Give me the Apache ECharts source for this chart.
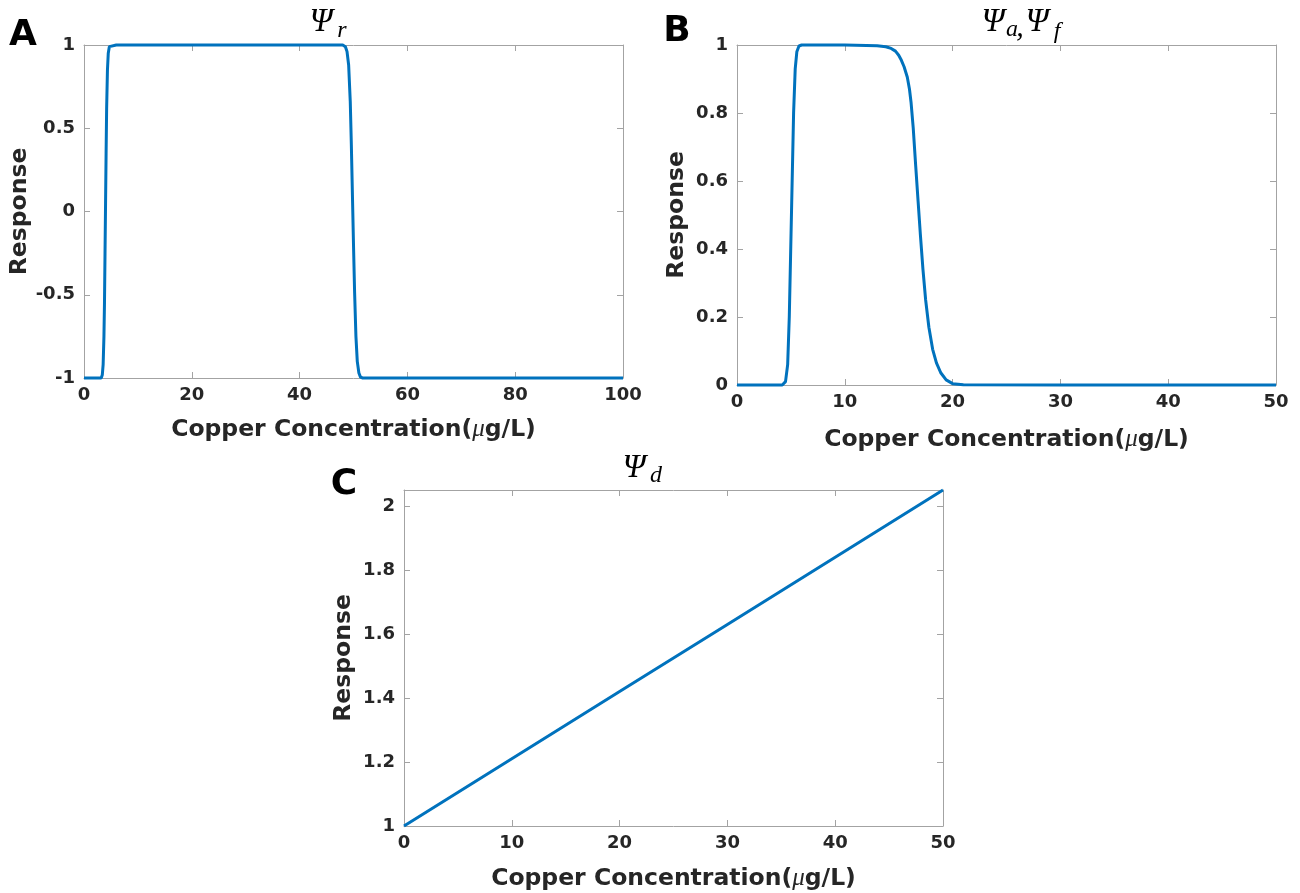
<!DOCTYPE html>
<html>
<head>
<meta charset="utf-8">
<title>Copper concentration responses</title>
<script src="https://cdn.jsdelivr.net/npm/echarts@6/dist/echarts.min.js"></script>
<style>
  html, body { margin: 0; padding: 0; background: #ffffff; }
  #chart { width: 1300px; height: 893px; }
</style>
</head>
<body>
<div id="chart"></div>
<script>
// Panel A: Psi_r response
const psiRX = [0, 3.2, 3.4, 3.55, 3.7, 3.8, 3.9, 4.0, 4.1, 4.2, 4.35, 4.5, 4.7, 5.0, 6.0, 20, 35,
  48.0, 48.5, 48.8, 49.1, 49.4, 49.6, 49.8, 50.0, 50.2, 50.45, 50.7, 51.0, 51.3, 51.7, 53, 70, 100];
const psiRY = [-1, -1, -0.98, -0.92, -0.75, -0.55, -0.25, 0.05, 0.35, 0.62, 0.85, 0.95, 0.99, 0.998, 1, 1, 1,
  1, 0.99, 0.96, 0.88, 0.66, 0.4, 0.1, -0.2, -0.48, -0.75, -0.9, -0.97, -0.995, -1, -1, -1, -1];

// Panel B: Psi_a, Psi_f response
const psiAFX = [0, 4.2, 4.5, 4.7, 4.85, 4.95, 5.05, 5.15, 5.25, 5.4, 5.55, 5.75, 6.0, 8, 10,
  13.0, 13.8, 14.3, 14.7, 15.0, 15.25, 15.5, 15.8, 16.0, 16.15, 16.35, 16.58, 16.8, 17.0, 17.25,
  17.5, 17.8, 18.15, 18.5, 18.9, 19.4, 20.0, 21.0, 30, 40, 50];
const psiAFY = [0, 0, 0.01, 0.06, 0.2, 0.35, 0.5, 0.65, 0.8, 0.93, 0.98, 0.997, 1, 1, 1,
  0.998, 0.995, 0.99, 0.982, 0.97, 0.955, 0.936, 0.905, 0.87, 0.83, 0.755, 0.643, 0.54, 0.447, 0.34,
  0.25, 0.17, 0.105, 0.065, 0.036, 0.015, 0.004, 0.001, 0, 0, 0];

// Panel C: Psi_d response
const psiDX = [0, 10, 20, 30, 40, 50];
const psiDY = [1, 1.21, 1.42, 1.63, 1.84, 2.05];

// Axis ranges [min, max, interval]
const xRanges = [[0, 100, 20], [0, 50, 10], [0, 50, 10]];
const yRanges = [[-1, 1, 0.5], [0, 1, 0.2], [1, 2.05, 0.2]];

const xName = 'Copper Concentration(';
const yName = 'Response';
const panelLetters = ['A', 'B', 'C'];

const LINE_COLOR = '#0072BD';
const FRAME = '#a3a3a3';
const TEXT = '#262626';
const SANS = '"DejaVu Sans", "Open Sans", sans-serif';
const SERIF = '"Liberation Serif", "DejaVu Serif", serif';

const grids = [
  { left: 84, top: 45, width: 539, height: 333 },
  { left: 737, top: 45, width: 539, height: 340 },
  { left: 404, top: 490, width: 539, height: 336 }
];
const xNameGaps = [39, 42, 40];
const yNameGaps = [49, 48, 48];

function pairs(xs, ys) {
  return xs.map((x, i) => [x, ys[i]]);
}
const seriesData = [pairs(psiRX, psiRY), pairs(psiAFX, psiAFY), pairs(psiDX, psiDY)];

const tickLabel = { fontFamily: SANS, fontWeight: 'bold', fontSize: 18, color: TEXT };

const xAxes = [], yAxes = [], series = [];
grids.forEach((g, i) => {
  const [xmin, xmax, xint] = xRanges[i];
  const [ymin, ymax, yint] = yRanges[i];
  const common = {
    type: 'value',
    gridIndex: i,
    splitLine: { show: false },
    axisLine: { show: true, onZero: false, lineStyle: { color: FRAME, width: 1 } },
    axisTick: { show: true, inside: true, length: 6, lineStyle: { color: FRAME, width: 1 } }
  };
  xAxes.push(Object.assign({}, common, {
    position: 'bottom', min: xmin, max: xmax, interval: xint,
    axisLabel: Object.assign({ margin: 8 }, tickLabel),
    name: '{n|' + xName + '}{mu|μ}{n|g/L)}',
    nameLocation: 'middle',
    nameGap: xNameGaps[i],
    nameTextStyle: {
      rich: {
        n: { fontFamily: SANS, fontWeight: 'bold', fontSize: 23.5, color: TEXT },
        mu: { fontFamily: SERIF, fontStyle: 'italic', fontSize: 25, color: TEXT }
      }
    }
  }));
  xAxes.push(Object.assign({}, common, {
    position: 'top', min: xmin, max: xmax, interval: xint,
    axisLabel: { show: false }
  }));
  yAxes.push(Object.assign({}, common, {
    position: 'left', min: ymin, max: ymax, interval: yint,
    axisLabel: Object.assign({ margin: 9, showMaxLabel: i === 2 ? false : true }, tickLabel),
    name: yName,
    nameLocation: 'middle',
    nameGap: yNameGaps[i],
    nameTextStyle: { fontFamily: SANS, fontWeight: 'bold', fontSize: 23.5, color: TEXT }
  }));
  yAxes.push(Object.assign({}, common, {
    position: 'right', min: ymin, max: ymax, interval: yint,
    axisLabel: { show: false }
  }));
  series.push({
    type: 'line',
    xAxisIndex: 2 * i,
    yAxisIndex: 2 * i,
    data: seriesData[i],
    showSymbol: false,
    smooth: false,
    clip: false,
    lineStyle: { color: LINE_COLOR, width: 3 },
    z: 5
  });
});

// Panel letters and math titles
function txt(x, y, text, font) {
  return {
    type: 'text', x: x, y: y, silent: true,
    style: { text: text, font: font, fill: '#000000', align: 'center', verticalAlign: 'middle' }
  };
}
const letterFont = 'bold 36px ' + SANS;
const psiFont = 'italic 33px ' + SERIF;
const subFont = 'italic 24px ' + SERIF;

const graphic = [
  txt(23, 36, panelLetters[0], letterFont),
  txt(677, 32, panelLetters[1], letterFont),
  txt(344, 485, panelLetters[2], letterFont),
  // Psi_r
  txt(321, 22, 'Ψ', psiFont),
  txt(342, 31, 'r', subFont),
  // Psi_a, Psi_f
  txt(993, 22, 'Ψ', psiFont),
  txt(1012, 30, 'a', subFont),
  txt(1020, 28, ',', 'italic 30px ' + SERIF),
  txt(1037, 22, 'Ψ', psiFont),
  txt(1057, 32, 'f', subFont),
  // Psi_d
  txt(634, 468, 'Ψ', psiFont),
  txt(656, 476, 'd', subFont)
];

const chart = echarts.init(document.getElementById('chart'), null, { renderer: 'canvas' });
chart.setOption({
  animation: false,
  backgroundColor: '#ffffff',
  grid: grids,
  xAxis: xAxes,
  yAxis: yAxes,
  series: series,
  graphic: graphic
});
</script>
</body>
</html>
